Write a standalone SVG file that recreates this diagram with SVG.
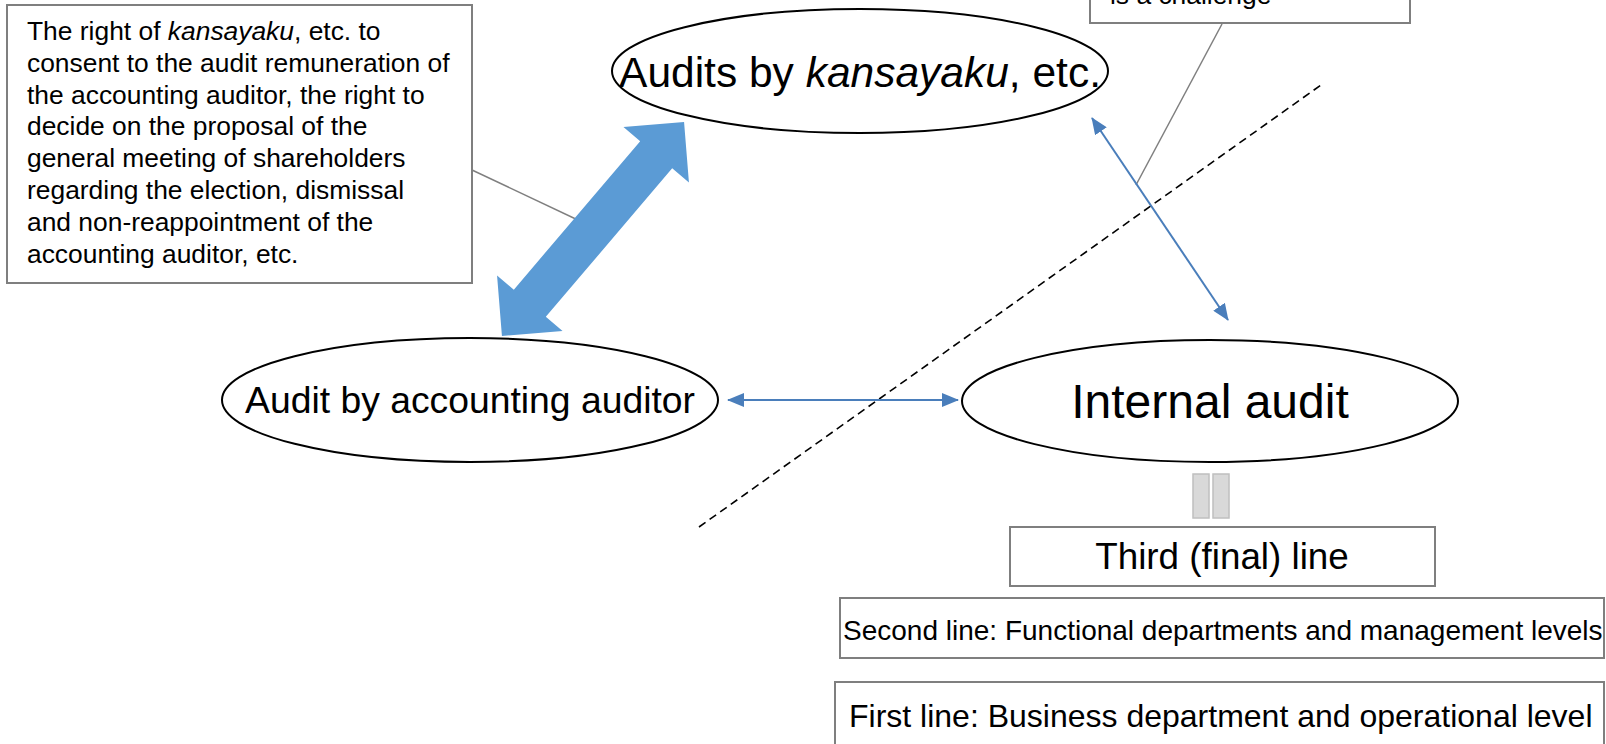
<svg xmlns="http://www.w3.org/2000/svg" width="1606" height="744" viewBox="0 0 1606 744">
<style>
text{font-family:"Liberation Sans",Arial,sans-serif;fill:#000}
.box{fill:#fff;stroke:#7f7f7f;stroke-width:2}
.ell{fill:#fff;stroke:#000;stroke-width:2}
.lead{stroke:#7f7f7f;stroke-width:1.5;fill:none}
.thin{stroke:#4a7ebb;stroke-width:2;fill:none;marker-start:url(#ah);marker-end:url(#ah)}
.bar{fill:#d9d9d9;stroke:#bfbfbf;stroke-width:1.5}
</style>
<defs>
<marker id="ah" markerUnits="userSpaceOnUse" markerWidth="17" markerHeight="14" refX="16" refY="7" orient="auto-start-reverse">
<path d="M0,0 L17,7 L0,14 z" fill="#4a7ebb"/>
</marker>
</defs>
<rect width="1606" height="744" fill="#fff"/>

<g id="connectors">
<line class="lead" x1="472" y1="170" x2="580" y2="221"/>
<line class="lead" x1="1222" y1="24" x2="1136" y2="185"/>
<line x1="699" y1="527" x2="1321" y2="85" stroke="#000" stroke-width="1.6" stroke-dasharray="8 5"/>
<polygon id="big-arrow" transform="translate(593,229) rotate(-49.6)" fill="#5b9bd5" points="140.5,0 97.5,-43 97.5,-21 -97.5,-21 -97.5,-43 -140.5,0 -97.5,43 -97.5,21 97.5,21 97.5,43"/>
<line class="thin" x1="1092" y1="118" x2="1228" y2="320"/>
<line class="thin" x1="728" y1="400" x2="958" y2="400"/>
</g>

<g id="rights-note">
<rect class="box" x="7" y="5" width="465" height="278"/>
<text font-size="26.4">
<tspan x="27" y="40">The right of <tspan font-style="italic">kansayaku</tspan>, etc. to</tspan>
<tspan x="27" y="71.8">consent to the audit remuneration of</tspan>
<tspan x="27" y="103.6">the accounting auditor, the right to</tspan>
<tspan x="27" y="135.4">decide on the proposal of the</tspan>
<tspan x="27" y="167.2">general meeting of shareholders</tspan>
<tspan x="27" y="199">regarding the election, dismissal</tspan>
<tspan x="27" y="230.8">and non-reappointment of the</tspan>
<tspan x="27" y="262.6">accounting auditor, etc.</tspan>
</text>
</g>

<g id="challenge-note">
<rect class="box" x="1090" y="-40" width="320" height="63"/>
<text x="1110" y="4" font-size="26.4">is a challenge</text>
</g>

<g id="kansayaku">
<ellipse class="ell" cx="860" cy="71" rx="248" ry="62"/>
<text x="860" y="87" font-size="42.5" text-anchor="middle">Audits by <tspan font-style="italic">kansayaku</tspan>, etc.</text>
</g>

<g id="accounting-auditor">
<ellipse class="ell" cx="470" cy="400" rx="248" ry="62"/>
<text x="470" y="413" font-size="37.3" text-anchor="middle">Audit by accounting auditor</text>
</g>

<g id="internal-audit">
<ellipse class="ell" cx="1210" cy="401" rx="248" ry="61"/>
<text x="1210" y="418" font-size="48" text-anchor="middle">Internal audit</text>
</g>

<g id="equals">
<rect class="bar" x="1193" y="474" width="16" height="44"/>
<rect class="bar" x="1213" y="474" width="16" height="44"/>
</g>

<g id="third-line">
<rect class="box" x="1010" y="527" width="425" height="59"/>
<text x="1222" y="569" font-size="36.8" text-anchor="middle">Third (final) line</text>
</g>

<g id="second-line">
<rect class="box" x="840" y="598" width="764" height="60"/>
<text x="843" y="640" font-size="28">Second line: Functional departments and management levels</text>
</g>

<g id="first-line">
<rect class="box" x="835" y="682" width="769" height="80"/>
<text x="849" y="727" font-size="32">First line: Business department and operational level</text>
</g>
</svg>
